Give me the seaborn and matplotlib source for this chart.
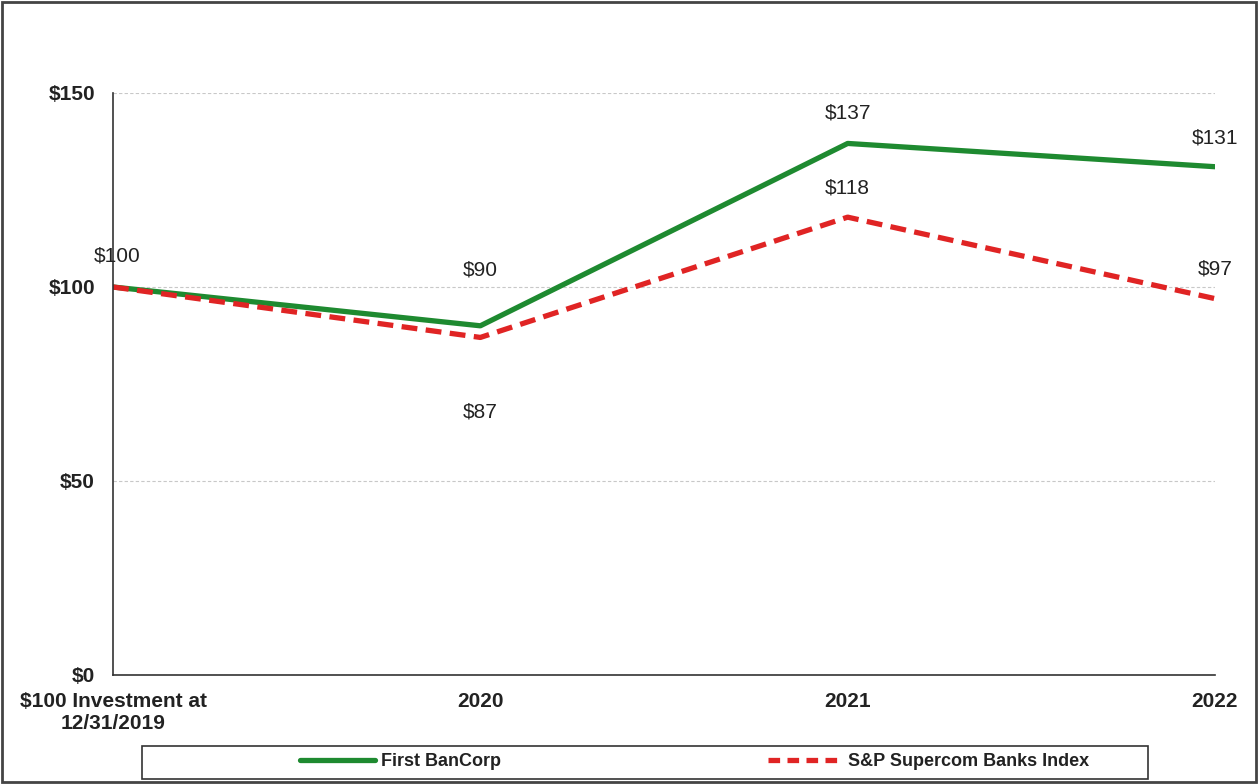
import matplotlib
matplotlib.use("Agg")
import matplotlib.pyplot as plt
import numpy as np
import pandas as pd
import seaborn as sns
from matplotlib.patches import Rectangle

# Data
periods = ["$100 Investment at\n12/31/2019", "2020", "2021", "2022"]
first_bancorp = [100, 90, 137, 131]
sp_banks = [100, 87, 118, 97]
series_names = ["First BanCorp", "S&P Supercom Banks Index"]
yticks = [0, 50, 100, 150]

green = "#1e8a30"
red = "#e02424"

df = pd.DataFrame(
    {
        "pos": list(range(len(periods))) * 2,
        "value": first_bancorp + sp_banks,
        "series": [series_names[0]] * len(periods) + [series_names[1]] * len(periods),
    }
)

sns.set_style("white")
plt.rcParams["font.family"] = ["Liberation Sans", "DejaVu Sans"]

fig = plt.figure(figsize=(12.58, 7.84), dpi=100)
ax = fig.add_axes([113 / 1258, 1 - 675 / 784, (1215 - 113) / 1258, (675 - 93) / 784])

sns.lineplot(
    data=df,
    x="pos",
    y="value",
    hue="series",
    style="series",
    palette=[green, red],
    dashes=[(None, None), (3, 1.6)],
    linewidth=3.8,
    ax=ax,
    legend=False,
)

ax.set_xlim(0, len(periods) - 1)
ax.set_ylim(0, 150)
ax.set_xticks(range(len(periods)))
ax.set_xticklabels(periods, fontsize=15, fontweight="bold", color="#222222", linespacing=1.2)
ax.set_yticks(yticks)
ax.set_yticklabels([f"${v}" for v in yticks], fontsize=15, fontweight="bold", color="#222222")
ax.set_xlabel("")
ax.set_ylabel("")

for s in ["top", "right"]:
    ax.spines[s].set_visible(False)
for s in ["left", "bottom"]:
    ax.spines[s].set_color("#333333")
    ax.spines[s].set_linewidth(1.2)
ax.tick_params(axis="y", direction="out", length=5, width=1.2, color="#333333", pad=8)
ax.tick_params(axis="x", direction="inout", length=12, width=1.2, color="#333333", pad=6)

ax.yaxis.grid(True, linestyle=(0, (3, 2)), color="#c8c8c8", linewidth=0.8)
ax.set_axisbelow(True)

# Data labels (offsets in points from each point to label centre)
label_offsets_a = [(3, 22), (0, 40), (0, 22), (0, 21)]
label_offsets_b = [None, (0, -54), (0, 21), (0, 21)]
for i, v in enumerate(first_bancorp):
    dx, dy = label_offsets_a[i]
    ax.annotate(f"${v}", (i, v), xytext=(dx, dy), textcoords="offset points",
                ha="center", va="center", fontsize=15, color="#222222", clip_on=False)
for i, v in enumerate(sp_banks):
    if label_offsets_b[i] is None:
        continue
    dx, dy = label_offsets_b[i]
    ax.annotate(f"${v}", (i, v), xytext=(dx, dy), textcoords="offset points",
                ha="center", va="center", fontsize=15, color="#222222", clip_on=False)

# Legend box and entries
fig.patches.append(Rectangle((142 / 1258, 1 - 779 / 784), (1148 - 142) / 1258, (779 - 746) / 784,
                             transform=fig.transFigure, fill=False, edgecolor="#333333", linewidth=1.2))
handles = [
    plt.Line2D([], [], color=green, linewidth=3.8),
    plt.Line2D([], [], color=red, linewidth=3.8, dashes=(2.2, 1.4)),
]
leg = fig.legend(handles, series_names, loc="center", bbox_to_anchor=(695 / 1258, 1 - 762 / 784),
                 ncol=2, frameon=False, handlelength=4.15, handletextpad=0.3, columnspacing=14.8,
                 prop={"weight": "bold", "size": 13})
for t in leg.get_texts():
    t.set_color("#222222")

# Outer border
fig.patches.append(Rectangle((2 / 1258, 2 / 784), 1254 / 1258, 780 / 784, transform=fig.transFigure,
                             fill=False, edgecolor="#444444", linewidth=2))

fig.savefig("out.png", dpi=100)
